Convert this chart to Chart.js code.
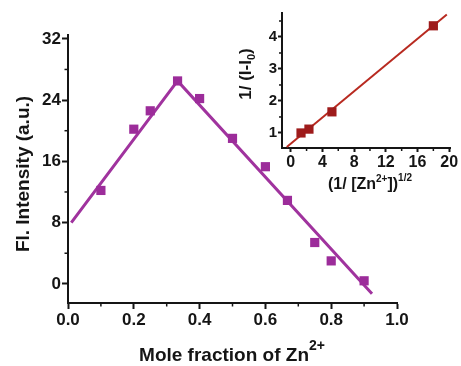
<!DOCTYPE html>
<html>
<head>
    <meta charset="utf-8" />
    <title>Mole fraction of Zn2+</title>
    <script src="https://cdn.jsdelivr.net/npm/chart.js"></script>
    <style>
        body { margin: 0; background: #fff; }
        .wrap { position: relative; width: 461px; height: 366px; }
        #mainChart { position: absolute; left: 0; top: 0; }
        #insetChart { position: absolute; left: 230px; top: 0; }
    </style>
</head>
<body>
    <div class="wrap">
        <canvas id="mainChart" width="461" height="366"></canvas>
        <canvas id="insetChart" width="231" height="200"></canvas>
    </div>

    <script>
        // main plot (Job's plot)
        const moleFraction = [0.1, 0.2, 0.25, 0.333, 0.4, 0.5, 0.6, 0.667, 0.75, 0.8, 0.9];
        const intensity = [12.2, 20.2, 22.6, 26.5, 24.2, 19.0, 15.3, 10.9, 5.4, 3.0, 0.4];
        const fitFraction = [0.01, 0.333, 0.924];
        const fitIntensity = [8.0, 26.5, -1.3];
        const xTicks = [0, 0.2, 0.4, 0.6, 0.8, 1.0];
        const xMinor = [0.1, 0.3, 0.5, 0.7, 0.9];
        const yTicks = [0, 8, 16, 24, 32];
        const yMinor = [4, 12, 20, 28];

        // inset (Benesi-Hildebrand)
        const invRootZn = [1.3, 2.3, 5.2, 18.0];
        const invDelta = [1.0, 1.12, 1.66, 4.35];
        const insetFitX = [-0.5, 19.7];
        const insetFitY = [0.56, 4.7];
        const insetXTicks = [0, 4, 8, 12, 16, 20];
        const insetXMinor = [2, 6, 10, 14, 18];
        const insetYTicks = [1, 2, 3, 4];
        const insetYMinor = [1.5, 2.5, 3.5, 4.5];

        const FONT = "'Liberation Sans', Arial, sans-serif";
        const INK = '#151515';

        function points(xs, ys) {
            return xs.map((x, i) => ({ x: x, y: ys[i] }));
        }

        function axis(min, max, ticks, fontSize, size, isX, fmt, tickLen) {
            return {
                type: 'linear',
                min: min,
                max: max,
                afterBuildTicks: s => { s.ticks = ticks.map(v => ({ value: v })); },
                afterFit: s => { if (isX) s.height = size; else s.width = size; },
                border: { display: true, color: INK, width: 2 },
                grid: { drawOnChartArea: false, drawTicks: true, tickLength: tickLen, tickColor: INK, tickWidth: 2 },
                ticks: {
                    color: INK,
                    padding: isX ? 1 : 1,
                    maxRotation: 0,
                    autoSkip: false,
                    font: { family: FONT, size: fontSize, weight: 'bold' },
                    callback: fmt
                }
            };
        }

        // short minor ticks on both axes
        const minorTicks = {
            id: 'minorTicks',
            afterDraw(chart, args, opts) {
                const ctx = chart.ctx;
                const sx = chart.scales.x, sy = chart.scales.y;
                ctx.save();
                ctx.strokeStyle = INK;
                ctx.lineWidth = 1.5;
                opts.x.forEach(v => {
                    const px = sx.getPixelForValue(v);
                    ctx.beginPath();
                    ctx.moveTo(px, sy.bottom);
                    ctx.lineTo(px, sy.bottom + opts.len);
                    ctx.stroke();
                });
                opts.y.forEach(v => {
                    const py = sy.getPixelForValue(v);
                    ctx.beginPath();
                    ctx.moveTo(sx.left, py);
                    ctx.lineTo(sx.left - opts.len, py);
                    ctx.stroke();
                });
                ctx.restore();
            }
        };

        // axis titles with super/subscripts
        function drawRich(ctx, parts, cx, cy, rotate) {
            ctx.save();
            ctx.translate(cx, cy);
            if (rotate) ctx.rotate(-Math.PI / 2);
            let total = 0;
            parts.forEach(p => {
                ctx.font = 'bold ' + p.size + 'px ' + FONT;
                total += ctx.measureText(p.t).width;
            });
            let x = -total / 2;
            ctx.fillStyle = INK;
            ctx.textBaseline = 'alphabetic';
            parts.forEach(p => {
                ctx.font = 'bold ' + p.size + 'px ' + FONT;
                ctx.fillText(p.t, x, p.dy || 0);
                x += ctx.measureText(p.t).width;
            });
            ctx.restore();
        }

        const axisTitles = {
            id: 'axisTitles',
            afterDraw(chart, args, opts) {
                opts.items.forEach(it => drawRich(chart.ctx, it.parts, it.x, it.y, it.rotate));
            }
        };

        const purple = '#9c2c9a';
        new Chart(document.getElementById('mainChart').getContext('2d'), {
            type: 'scatter',
            data: {
                datasets: [{
                    data: points(moleFraction, intensity),
                    pointStyle: 'rect',
                    pointRadius: 6.5,
                    backgroundColor: purple,
                    borderColor: purple,
                    borderWidth: 0
                }, {
                    type: 'line',
                    data: points(fitFraction, fitIntensity),
                    showLine: true,
                    borderColor: '#a0339e',
                    borderWidth: 3,
                    pointRadius: 0,
                    tension: 0,
                    fill: false
                }]
            },
            options: {
                responsive: false,
                animation: false,
                layout: { padding: { left: 0, top: 35, right: 64, bottom: 0 } },
                scales: {
                    x: axis(0, 1.0, xTicks, 17, 63, true, v => v.toFixed(1), 6),
                    y: axis(-2.5, 32.5, yTicks, 17, 68, false, v => String(v), 6)
                },
                plugins: {
                    legend: { display: false },
                    tooltip: { enabled: false },
                    minorTicks: { x: xMinor, y: yMinor, len: 3.5 },
                    axisTitles: {
                        items: [
                            { parts: [{ t: 'Fl. Intensity (a.u.)', size: 19 }], x: 29, y: 174, rotate: true },
                            { parts: [{ t: 'Mole fraction of Zn', size: 19 }, { t: '2+', size: 14, dy: -11 }], x: 232, y: 361 }
                        ]
                    }
                }
            },
            plugins: [minorTicks, axisTitles]
        });

        new Chart(document.getElementById('insetChart').getContext('2d'), {
            type: 'scatter',
            data: {
                datasets: [{
                    data: points(invRootZn, invDelta),
                    pointStyle: 'rect',
                    pointRadius: 6.5,
                    backgroundColor: '#9e1b1b',
                    borderColor: '#9e1b1b',
                    borderWidth: 0
                }, {
                    type: 'line',
                    data: points(insetFitX, insetFitY),
                    showLine: true,
                    borderColor: '#b82a20',
                    borderWidth: 2,
                    pointRadius: 0,
                    tension: 0,
                    fill: false
                }]
            },
            options: {
                responsive: false,
                animation: false,
                layout: { padding: { left: 0, top: 13, right: 11, bottom: 0 } },
                scales: {
                    x: axis(-1.1, 20.1, insetXTicks, 16, 52, true, v => String(v), 4),
                    y: axis(0.53, 4.75, insetYTicks, 15, 52, false, v => String(v), 4)
                },
                plugins: {
                    legend: { display: false },
                    tooltip: { enabled: false },
                    minorTicks: { x: insetXMinor, y: insetYMinor, len: 3 },
                    axisTitles: {
                        items: [
                            { parts: [{ t: '1/ (I-I', size: 17 }, { t: '0', size: 11, dy: 4 }, { t: ')', size: 17 }], x: 21, y: 74, rotate: true },
                            { parts: [{ t: '(1/ [Zn', size: 16 }, { t: '2+', size: 10, dy: -7 }, { t: '])', size: 16 }, { t: '1/2', size: 10, dy: -8 }], x: 140, y: 189 }
                        ]
                    }
                }
            },
            plugins: [minorTicks, axisTitles]
        });
    </script>
</body>
</html>
